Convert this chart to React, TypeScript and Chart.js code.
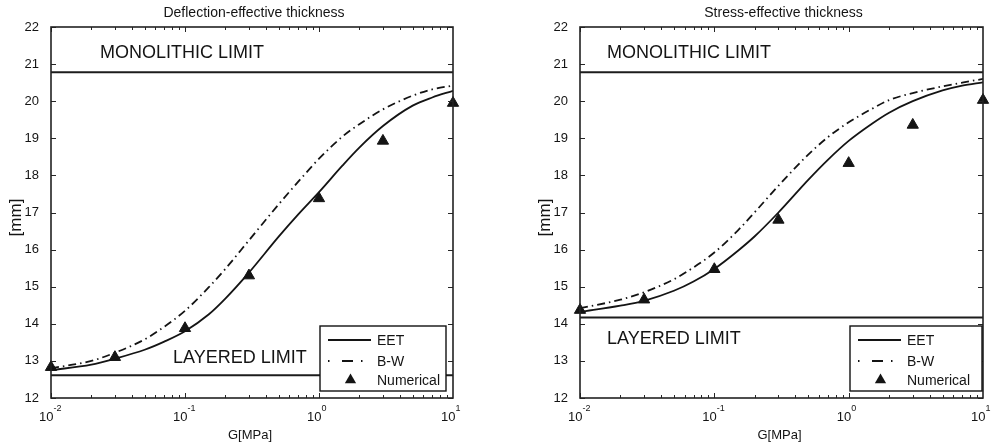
import React, { useEffect, useRef } from 'react';
import { Chart, registerables } from 'chart.js';

Chart.register(...registerables);

// ---- data ----
const gValues = [0.01, 0.02, 0.03, 0.05, 0.07, 0.1, 0.15, 0.2, 0.3, 0.5, 0.7, 1, 1.5, 2, 3, 5, 7, 10];
const deflectionEET = [12.75, 12.9, 13.06, 13.3, 13.52, 13.8, 14.25, 14.68, 15.38, 16.35, 16.95, 17.55, 18.27, 18.75, 19.33, 19.88, 20.1, 20.28];
const deflectionBW = [12.8, 13.0, 13.22, 13.58, 13.92, 14.35, 14.98, 15.48, 16.25, 17.22, 17.83, 18.45, 19.05, 19.38, 19.78, 20.15, 20.32, 20.42];
const numericalG = [0.01, 0.03, 0.1, 0.3, 1, 3, 10];
const deflectionNumerical = [12.83, 13.1, 13.88, 15.3, 17.38, 18.93, 19.95];

const stressEET = [14.32, 14.49, 14.62, 14.89, 15.14, 15.48, 15.97, 16.36, 17.0, 17.88, 18.42, 18.93, 19.4, 19.69, 20.0, 20.29, 20.42, 20.51];
const stressBW = [14.42, 14.65, 14.85, 15.2, 15.52, 15.92, 16.52, 17.01, 17.72, 18.56, 19.03, 19.43, 19.8, 20.03, 20.22, 20.4, 20.5, 20.6];
const stressNumerical = [14.37, 14.65, 15.47, 16.8, 18.33, 19.36, 20.03];

const limitG = [0.01, 10];
const deflectionMonolithic = 20.78;
const deflectionLayered = 12.61;
const stressMonolithic = 20.78;
const stressLayered = 14.17;

const xMajorTicks = [0.01, 0.1, 1, 10];
const xTickExponents = ['-2', '-1', '0', '1'];
const yMin = 12;
const yMax = 22;

const legendLabels = ['EET', 'B-W', 'Numerical'];
const FONT = '"Liberation Sans", Arial, Helvetica, sans-serif';
const INK = '#141414';

type PanelCfg = {
  left: number;
  width: number;
  plotLeft: number;
  padRight: number;
  title: string;
  eet: number[];
  bw: number[];
  num: number[];
  mono: number;
  layered: number;
  monoText: [number, number];
  layeredText: [number, number];
  legendRightGap: number;
};

const BW_DASH = [8, 4, 1.5, 4];

function makePlugin(cfg: PanelCfg) {
  return {
    id: 'matlabDecor',
    afterDatasetsDraw(chart: any) {
      const ctx: CanvasRenderingContext2D = chart.ctx;
      const xs = chart.scales.x;
      const ys = chart.scales.y;
      const { left, right, top, bottom } = chart.chartArea;
      ctx.save();

      // ticks (inward, both sides)
      ctx.strokeStyle = '#262626';
      ctx.lineWidth = 1;
      ctx.beginPath();
      for (let d = 0; d < 3; d++) {
        const base = xMajorTicks[d];
        for (let m = 1; m <= 9; m++) {
          const v = base * m;
          const px = Math.round(xs.getPixelForValue(v)) + 0.5;
          const len = m === 1 ? 5 : 3;
          ctx.moveTo(px, bottom);
          ctx.lineTo(px, bottom - len);
          ctx.moveTo(px, top);
          ctx.lineTo(px, top + len);
        }
      }
      for (let v = yMin; v <= yMax; v++) {
        const py = Math.round(ys.getPixelForValue(v)) + 0.5;
        ctx.moveTo(left, py);
        ctx.lineTo(left + 5, py);
        ctx.moveTo(right, py);
        ctx.lineTo(right - 5, py);
      }
      ctx.stroke();

      // box
      ctx.lineWidth = 1.6;
      ctx.strokeStyle = '#222';
      ctx.strokeRect(left, top, right - left, bottom - top);

      // x tick labels with superscripts
      ctx.fillStyle = INK;
      ctx.textBaseline = 'middle';
      xMajorTicks.forEach((v, i) => {
        const px = xs.getPixelForValue(v);
        ctx.font = `13px ${FONT}`;
        ctx.textAlign = 'right';
        ctx.fillText('10', px + 2.5, 417);
        ctx.font = `9px ${FONT}`;
        ctx.textAlign = 'left';
        ctx.fillText(xTickExponents[i], px + 2.5, 409);
      });

      // axis titles and panel title
      const cx = (left + right) / 2;
      ctx.textAlign = 'center';
      ctx.font = `14px ${FONT}`;
      ctx.fillText(cfg.title, cx + 2, 13);
      ctx.font = `13px ${FONT}`;
      ctx.fillText('G[MPa]', cx - 2, 435);
      ctx.save();
      ctx.translate(left - 35, (top + bottom) / 2 + 5);
      ctx.rotate(-Math.PI / 2);
      ctx.font = `17px ${FONT}`;
      ctx.fillText('[mm]', 0, 0);
      ctx.restore();

      // limit annotations
      ctx.textAlign = 'left';
      ctx.font = `18px ${FONT}`;
      ctx.fillText('MONOLITHIC LIMIT', xs.getPixelForValue(cfg.monoText[0]), ys.getPixelForValue(cfg.monoText[1]));
      ctx.fillText('LAYERED LIMIT', xs.getPixelForValue(cfg.layeredText[0]), ys.getPixelForValue(cfg.layeredText[1]));

      // legend
      const bx1 = right - 133;
      const bx2 = right - cfg.legendRightGap;
      const by1 = bottom - 72;
      const by2 = bottom - 7;
      ctx.fillStyle = '#fff';
      ctx.fillRect(bx1, by1, bx2 - bx1, by2 - by1);
      ctx.strokeStyle = '#111';
      ctx.lineWidth = 1.4;
      ctx.strokeRect(bx1, by1, bx2 - bx1, by2 - by1);
      const sx1 = bx1 + 8;
      const sx2 = bx1 + 51;
      const tx = bx1 + 57;
      const rows = [bottom - 58, bottom - 37, bottom - 18];
      ctx.strokeStyle = INK;
      ctx.lineWidth = 1.8;
      ctx.beginPath();
      ctx.moveTo(sx1, rows[0]);
      ctx.lineTo(sx2, rows[0]);
      ctx.stroke();
      // dash-dot sample: dot, dash, dot
      ctx.beginPath();
      ctx.moveTo(sx1, rows[1]);
      ctx.lineTo(sx1 + 1.5, rows[1]);
      ctx.moveTo(sx1 + 14, rows[1]);
      ctx.lineTo(sx1 + 25, rows[1]);
      ctx.moveTo(sx1 + 33, rows[1]);
      ctx.lineTo(sx1 + 34.5, rows[1]);
      ctx.stroke();
      // triangle sample
      const mx = (sx1 + sx2) / 2 + 1;
      const r = 6.5;
      ctx.fillStyle = INK;
      ctx.beginPath();
      ctx.moveTo(mx, rows[2] - r);
      ctx.lineTo(mx + r * 0.866, rows[2] + r * 0.5);
      ctx.lineTo(mx - r * 0.866, rows[2] + r * 0.5);
      ctx.closePath();
      ctx.fill();
      ctx.font = `14px ${FONT}`;
      ctx.textAlign = 'left';
      ctx.textBaseline = 'middle';
      legendLabels.forEach((l, i) => ctx.fillText(l, tx, rows[i] + 1));

      ctx.restore();
    },
  };
}

function Panel({ cfg }: { cfg: PanelCfg }) {
  const ref = useRef<HTMLCanvasElement>(null);
  useEffect(() => {
    const canvas = ref.current!;
    const pts = (xsArr: number[], ysArr: number[]) => xsArr.map((x, i) => ({ x, y: ysArr[i] }));
    const chart = new Chart(canvas, {
      type: 'line',
      data: {
        datasets: [
          {
            label: 'Monolithic limit',
            data: pts(limitG, limitG.map(() => cfg.mono)),
            borderColor: '#1c1c1c',
            borderWidth: 2,
            pointRadius: 0,
          },
          {
            label: 'Layered limit',
            data: pts(limitG, limitG.map(() => cfg.layered)),
            borderColor: '#1c1c1c',
            borderWidth: 2,
            pointRadius: 0,
          },
          {
            label: legendLabels[0],
            data: pts(gValues, cfg.eet),
            borderColor: INK,
            borderWidth: 1.8,
            pointRadius: 0,
            cubicInterpolationMode: 'monotone',
          },
          {
            label: legendLabels[1],
            data: pts(gValues, cfg.bw),
            borderColor: INK,
            borderWidth: 1.8,
            borderDash: BW_DASH,
            pointRadius: 0,
            cubicInterpolationMode: 'monotone',
          },
          {
            label: legendLabels[2],
            data: pts(numericalG, cfg.num),
            showLine: false,
            pointStyle: 'triangle',
            pointRadius: 6.5,
            pointBackgroundColor: INK,
            pointBorderColor: INK,
            pointBorderWidth: 1,
            clip: false,
          } as any,
        ],
      },
      options: {
        responsive: false,
        animation: false,
        events: [],
        layout: { padding: { top: 27, right: cfg.padRight, left: 0, bottom: 0 } },
        plugins: {
          legend: { display: false },
          tooltip: { enabled: false },
          title: { display: false },
        },
        scales: {
          x: {
            type: 'logarithmic',
            min: 0.01,
            max: 10,
            grid: { display: false },
            border: { display: false },
            ticks: { display: false },
            afterFit: (s: any) => {
              s.height = 47;
            },
          },
          y: {
            type: 'linear',
            min: yMin,
            max: yMax,
            grid: { display: false },
            border: { display: false },
            ticks: {
              stepSize: 1,
              padding: 4,
              color: INK,
              font: { family: FONT, size: 13 },
            },
            afterFit: (s: any) => {
              s.width = cfg.plotLeft;
            },
          },
        },
      } as any,
      plugins: [makePlugin(cfg)],
    });
    return () => chart.destroy();
  }, [cfg]);
  return (
    <canvas
      ref={ref}
      width={cfg.width}
      height={445}
      style={{ position: 'absolute', left: cfg.left, top: 0, width: cfg.width, height: 445 }}
    />
  );
}

const leftCfg: PanelCfg = {
  left: 0,
  width: 496,
  plotLeft: 51,
  padRight: 43,
  title: 'Deflection-effective thickness',
  eet: deflectionEET,
  bw: deflectionBW,
  num: deflectionNumerical,
  mono: deflectionMonolithic,
  layered: deflectionLayered,
  monoText: [0.0232, 21.3],
  layeredText: [0.0813, 13.08],
  legendRightGap: 7,
};

const rightCfg: PanelCfg = {
  left: 496,
  width: 496,
  plotLeft: 84,
  padRight: 9,
  title: 'Stress-effective thickness',
  eet: stressEET,
  bw: stressBW,
  num: stressNumerical,
  mono: stressMonolithic,
  layered: stressLayered,
  monoText: [0.0159, 21.3],
  layeredText: [0.0159, 13.59],
  legendRightGap: 1,
};

export default function App() {
  return (
    <div style={{ position: 'absolute', left: 0, top: 0, width: 992, height: 445, background: '#fff' }}>
      <Panel cfg={leftCfg} />
      <Panel cfg={rightCfg} />
    </div>
  );
}
